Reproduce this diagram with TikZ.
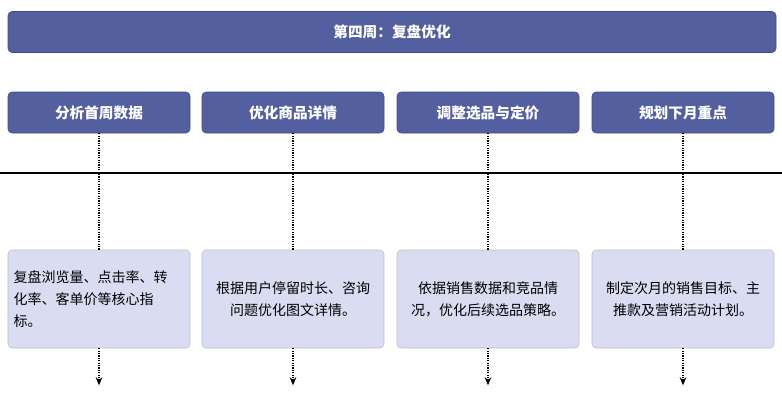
\documentclass[tikz,border=0pt]{standalone}
\usepackage{fontspec}
\setmainfont{Noto Sans CJK SC}
\usetikzlibrary{positioning,arrows.meta,calc}
\definecolor{hdblue}{HTML}{535F9F}
\definecolor{lightbox}{HTML}{DADDF2}
\tikzset{
  head/.style={rounded corners=3pt, fill=hdblue, draw=hdblue!80!black, text=white, font=\bfseries\fontsize{11}{13}\selectfont, minimum height=30.75pt, minimum width=136.5pt},
  detail/.style={rounded corners=3pt, fill=lightbox, draw=lightbox!85!black, minimum height=73.5pt, minimum width=136.5pt, text width=128pt, font=\fontsize{10.5}{16.5}\selectfont},
  link/.style={densely dotted, thick},
  flow/.style={densely dotted, thick, -{Stealth[length=6pt,width=5pt]}}
}
\begin{document}
\begin{tikzpicture}[x=0.75pt,y=-0.75pt]
    \useasboundingbox (0,0) rectangle (782,400);
    \node[head, minimum width=576pt] (week) at (392,32) {第四周：复盘优化};
    \draw[thick] (0,173) -- (782,173);

    \node[head] (h1) at (99,112.5) {分析首周数据};
    \node[head] (h2) at (293,112.5) {优化商品详情};
    \node[head] (h3) at (488,112.5) {调整选品与定价};
    \node[head] (h4) at (683,112.5) {规划下月重点};

    \node[detail, align=left] (d1) at (99,299) {复盘浏览量、点击率、转\\化率、客单价等核心指\\标。};
    \node[detail, align=center] (d2) at (293,299) {根据用户停留时长、咨询\\问题优化图文详情。};
    \node[detail, align=center] (d3) at (488,299) {依据销售数据和竞品情\\况，优化后续选品策略。};
    \node[detail, align=center] (d4) at (683,299) {制定次月的销售目标、主\\推款及营销活动计划。};

    \foreach \i in {1,...,4} {
        \coordinate (e\i) at ($(d\i.south)+(0,37)$);
        \draw[link] (h\i) -- (d\i);
        \draw[flow] (d\i) -- (e\i);
    }
\end{tikzpicture}
\end{document}
